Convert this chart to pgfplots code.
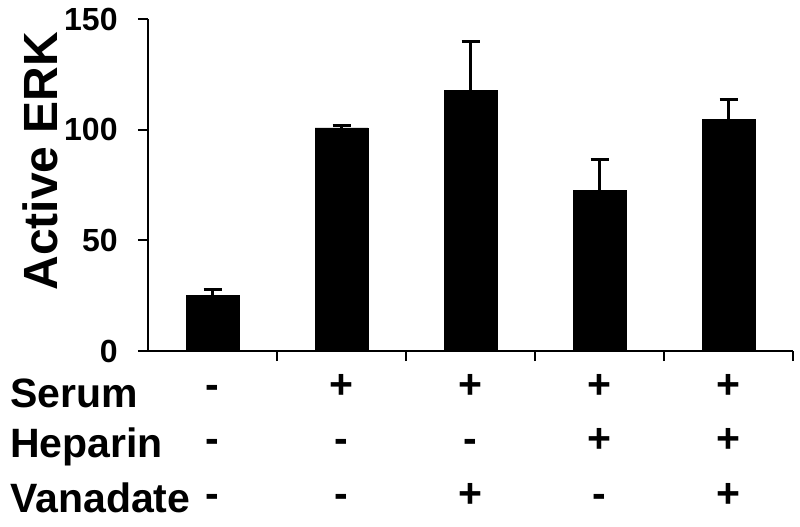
\documentclass[border=0pt]{standalone}
\usepackage{fontspec}
\setmainfont{Liberation Sans}
\usepackage{pgfplots}
\usepackage{pgfplotstable}
\pgfplotsset{compat=1.18}

% condition index, mean, upper error
\pgfplotstableread{
x  val    err
0  25.3   2.3
1  100.8  1.0
2  117.6  22.4
3  72.6   14.0
4  104.7  9.0
}\erkdata

\begin{document}
\begin{tikzpicture}[
  sign/.style={anchor=base, inner sep=0pt, font=\bfseries\fontsize{20.5}{24}\selectfont},
  rowlab/.style={anchor=base west, inner sep=0pt, font=\bfseries\fontsize{20.5}{24}\selectfont},
]
\begin{axis}[
  scale only axis,
  width=322.5pt, height=166pt,
  xmin=-0.5, xmax=4.5,
  ymin=0, ymax=150,
  axis x line*=bottom,
  axis y line*=left,
  axis line style={line width=1pt},
  tick style={line width=1pt, black},
  tick align=outside,
  major tick length=5pt,
  xtick={0.5,1.5,2.5,3.5,4.5},
  xticklabels={},
  ytick={0,50,100,150},
  yticklabels={0,50,100,150},
  every y tick label/.append style={font=\bfseries\fontsize{16}{16}\selectfont},
  yticklabel style={inner sep=0pt, xshift=-10pt},
  ylabel={Active ERK},
  every axis y label/.style={at={(rel axis cs:0,0.572)}, xshift=-54pt,
    rotate=90, anchor=center, font=\bfseries\fontsize{24}{24}\selectfont},
  ybar, bar width=0.41,
  clip=false,
]
\addplot[fill=black, draw=black,
  error bars/.cd, y dir=plus, y explicit,
  error bar style={line width=1.5pt, black},
  error mark options={rotate=90, line width=1.5pt, black, mark size=4.5pt}]
  table[x=x, y=val, y error=err] {\erkdata};

% treatment table below the bars
\node[sign] at ([yshift=-23.5pt]axis cs:0,0) {-};
\node[sign] at ([yshift=-23.5pt]axis cs:1,0) {+};
\node[sign] at ([yshift=-23.5pt]axis cs:2,0) {+};
\node[sign] at ([yshift=-23.5pt]axis cs:3,0) {+};
\node[sign] at ([yshift=-23.5pt]axis cs:4,0) {+};
\node[sign] at ([yshift=-50.5pt]axis cs:0,0) {-};
\node[sign] at ([yshift=-50.5pt]axis cs:1,0) {-};
\node[sign] at ([yshift=-50.5pt]axis cs:2,0) {-};
\node[sign] at ([yshift=-50.5pt]axis cs:3,0) {+};
\node[sign] at ([yshift=-50.5pt]axis cs:4,0) {+};
\node[sign] at ([yshift=-78pt]axis cs:0,0) {-};
\node[sign] at ([yshift=-78pt]axis cs:1,0) {-};
\node[sign] at ([yshift=-78pt]axis cs:2,0) {+};
\node[sign] at ([yshift=-78pt]axis cs:3,0) {-};
\node[sign] at ([yshift=-78pt]axis cs:4,0) {+};

\node[rowlab] at ([xshift=-69pt, yshift=-28pt]rel axis cs:0,0) {Serum};
\node[rowlab] at ([xshift=-69pt, yshift=-53pt]rel axis cs:0,0) {Heparin};
\node[rowlab] at ([xshift=-69pt, yshift=-80.5pt]rel axis cs:0,0) {Vanadate};
\end{axis}
\path ([xshift=-74pt, yshift=-87.5pt]current axis.south west)
  rectangle ([xshift=3.5pt, yshift=9.5pt]current axis.north east);
\end{tikzpicture}
\end{document}
